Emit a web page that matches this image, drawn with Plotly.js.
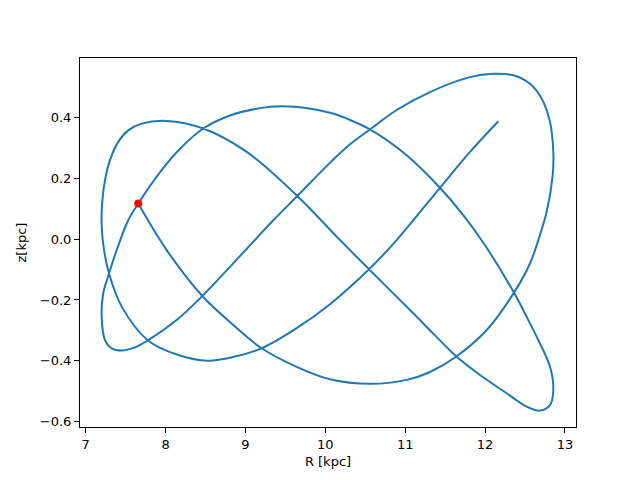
<!DOCTYPE html>
<html>
<head>
<meta charset="utf-8">
<script src="https://cdn.plot.ly/plotly-3.0.1.min.js"></script>
<style>html,body{margin:0;padding:0;background:#fff;}#chart{width:640px;height:480px;}</style>
</head>
<body>
<div id="chart"></div>
<script>
// Orbit in the meridional plane
const R_kpc = [
  7.658, 8.014, 8.460, 8.834, 9.203, 9.641, 10.058, 10.559, 11.018, 11.310, 11.636,
  12.020, 12.362, 12.562, 12.666, 12.771, 12.846, 12.854, 12.813, 12.709, 12.562,
  12.353, 12.103, 11.811, 11.310, 10.893, 10.559, 10.309, 10.058, 9.649, 9.349,
  9.082, 8.806, 8.460, 8.139, 7.784, 7.617, 7.451, 7.325, 7.242, 7.200,
  7.220, 7.292, 7.388, 7.533, 7.658, 7.951, 8.202, 8.472, 8.806, 9.141,
  9.470, 10.058, 10.309, 10.559, 11.018, 11.435, 11.727, 11.999, 12.366, 12.515,
  12.666, 12.813, 12.854, 12.813, 12.687, 12.521, 12.270, 11.936, 11.645, 11.367, 11.101,
  10.547, 10.184, 9.649, 9.016, 8.472, 8.012, 7.701, 7.533, 7.408, 7.304,
  7.242, 7.204, 7.200, 7.230, 7.292, 7.451, 7.784, 8.159, 8.525, 8.848,
  9.203, 9.641, 10.058, 10.547, 10.893, 11.435, 11.811, 12.165
];
const z_kpc = [
  0.117, -0.036, -0.187, -0.279, -0.359, -0.420, -0.461, -0.476, -0.463, -0.437, -0.387,
  -0.299, -0.176, -0.080, -0.003, 0.090, 0.210, 0.287, 0.385, 0.462, 0.511,
  0.539, 0.544, 0.533, 0.484, 0.425, 0.361, 0.312, 0.251, 0.142, 0.062,
  -0.013, -0.091, -0.187, -0.266, -0.332, -0.356, -0.366, -0.359, -0.332, -0.255,
  -0.178, -0.113, -0.036, 0.062, 0.117, 0.227, 0.303, 0.364, 0.407, 0.429,
  0.437, 0.416, 0.392, 0.361, 0.276, 0.169, 0.079, -0.020, -0.178, -0.253,
  -0.332, -0.420, -0.496, -0.545, -0.564, -0.551, -0.507, -0.447, -0.387, -0.315, -0.244,
  -0.099, -0.003, 0.142, 0.287, 0.364, 0.389, 0.380, 0.358, 0.320, 0.260,
  0.194, 0.112, 0.046, -0.036, -0.113, -0.222, -0.334, -0.381, -0.400, -0.388,
  -0.359, -0.293, -0.214, -0.099, -0.003, 0.169, 0.287, 0.388
];
const startR = [7.658];
const startZ = [0.117];
const xTicks = [7, 8, 9, 10, 11, 12, 13];
const yTicks = [-0.6, -0.4, -0.2, 0.0, 0.2, 0.4];

const traces = [
  {x: R_kpc, y: z_kpc, type: 'scatter', mode: 'lines',
   line: {color: '#1f77b4', width: 2, shape: 'spline', smoothing: 1.0},
   hoverinfo: 'skip'},
  {x: startR, y: startZ, type: 'scatter', mode: 'markers',
   marker: {color: 'red', size: 8}, hoverinfo: 'skip'}
];

const axisCommon = {
  showgrid: false, zeroline: false, showline: true, mirror: true,
  linecolor: '#000', linewidth: 1, ticks: 'outside', ticklen: 5, tickwidth: 1,
  tickcolor: '#000', tickfont: {family: 'DejaVu Sans', size: 13, color: '#000'}
};

const layout = {
  width: 640, height: 480,
  margin: {l: 80, r: 64, t: 58, b: 53},
  paper_bgcolor: '#fff', plot_bgcolor: '#fff',
  showlegend: false,
  font: {family: 'DejaVu Sans', size: 13, color: '#000'},
  xaxis: Object.assign({}, axisCommon, {
    range: [6.929, 13.138], tickvals: xTicks, ticktext: xTicks.map(String),
    title: {text: 'R [kpc]', font: {family: 'DejaVu Sans', size: 13}, standoff: 6}
  }),
  yaxis: Object.assign({}, axisCommon, {
    range: [-0.618, 0.596], tickvals: yTicks, ticktext: yTicks.map(v => (v < 0 ? '\u2212' : '') + Math.abs(v).toFixed(1)),
    title: {text: 'z[kpc]', font: {family: 'DejaVu Sans', size: 13}, standoff: 10}
  })
};

Plotly.newPlot('chart', traces, layout, {staticPlot: true, displayModeBar: false});
</script>
</body>
</html>
